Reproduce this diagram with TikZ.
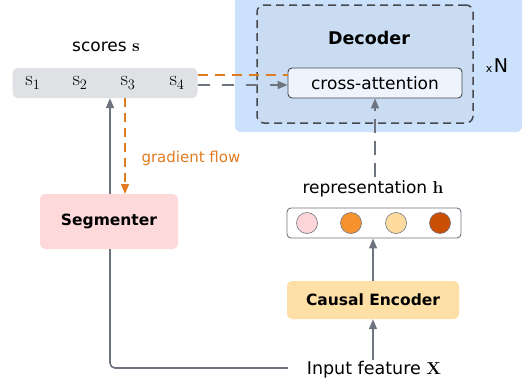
\documentclass[tikz,border=0pt]{standalone}
\usepackage[no-math]{fontspec}
\usepackage{amsmath}
\setmainfont{DejaVu Sans}
\usetikzlibrary{arrows.meta}
\definecolor{bgblue}{HTML}{CCE1FB}
\definecolor{decfill}{HTML}{C9DCF2}
\definecolor{cafill}{HTML}{EEF4FD}
\definecolor{scgray}{HTML}{DFE1E5}
\definecolor{segpink}{HTML}{FDD9DA}
\definecolor{encyel}{HTML}{FEDFA6}
\definecolor{arrgray}{HTML}{6E747F}
\definecolor{dashgray}{HTML}{45484E}
\definecolor{orangeflow}{HTML}{E07B20}
\definecolor{cA}{HTML}{FDD5D8}
\definecolor{cB}{HTML}{F7932F}
\definecolor{cC}{HTML}{FEDCA0}
\definecolor{cD}{HTML}{C94F04}
\tikzset{
  garrow/.style={draw=arrgray, line width=1.6pt, -{Triangle[length=10pt,width=8pt]}},
  oarrow/.style={draw=orangeflow, line width=1.6pt, dash pattern=on 9pt off 6pt, -{Triangle[length=10pt,width=8pt]}},
  blockbox/.style={rounded corners=5pt, inner sep=0pt, font=\bfseries\fontsize{15.5}{17}\selectfont},
  dot/.style={circle, draw=arrgray, line width=0.6pt, minimum size=21pt, inner sep=0pt},
  lbl/.style={font=\fontsize{17}{19}\selectfont, inner sep=1pt},
  smath/.style={font=\fontsize{21}{23}\selectfont, inner sep=0pt}
}
\begin{document}
\begin{tikzpicture}[x=1pt,y=-1pt]
\useasboundingbox (0,0) rectangle (524,389);
% decoder background
\fill[bgblue, rounded corners=6pt] (235,-10) rectangle (522,132);
\node[draw=dashgray, dash pattern=on 8pt off 5pt, line width=1.5pt, fill=decfill, rounded corners=7pt,
      minimum width=216pt, minimum height=118pt, inner sep=0pt] (dec) at (365,64) {};
\node[font=\bfseries\fontsize{17.5}{20}\selectfont] (dectxt) at (369,38) {Decoder};
\node[draw=dashgray, line width=0.9pt, fill=cafill, rounded corners=4pt, minimum width=174pt,
      minimum height=30pt, inner sep=0pt, lbl] (ca) at (375,83) {cross-attention};
\node[inner sep=0pt] (xn) at (497,66) {{\fontsize{11}{12}\selectfont x}\,{\fontsize{19}{21}\selectfont N}};
% scores
\node[fill=scgray, rounded corners=5pt, minimum width=185pt, minimum height=30pt, inner sep=0pt] (sc) at (105,83) {};
\node[smath] (s1) at (33,83) {$\mathrm{s}_1$};
\node[smath] (s2) at (80,83) {$\mathrm{s}_2$};
\node[smath] (s3) at (128,83) {$\mathrm{s}_3$};
\node[smath] (s4) at (177,83) {$\mathrm{s}_4$};
\node[lbl] (sclbl) at (106,47) {scores {\fontsize{19}{21}\selectfont$\mathbf{s}$}};
% segmenter
\node[blockbox, fill=segpink, minimum width=138pt, minimum height=55pt] (seg) at (109,221.5) {Segmenter};
% encoder
\node[blockbox, fill=encyel, minimum width=172pt, minimum height=38pt] (enc) at (373,300) {Causal Encoder};
% representation
\node[draw=arrgray, line width=0.9pt, fill=white, rounded corners=4pt, minimum width=174pt,
      minimum height=30pt, inner sep=0pt] (rep) at (374,223) {};
\node[dot, fill=cA] (h1) at (307,223) {};
\node[dot, fill=cB] (h2) at (351,223) {};
\node[dot, fill=cC] (h3) at (396,223) {};
\node[dot, fill=cD] (h4) at (440,223) {};
\node[lbl] (replbl) at (373,189) {representation {\fontsize{19}{21}\selectfont$\mathbf{h}$}};
% input
\node[lbl, font=\fontsize{17.5}{19}\selectfont] (inp) at (374,370) {Input feature {\fontsize{19}{21}\selectfont$\mathbf{X}$}};
\coordinate (corner) at (110,368);
% connectors
\draw[draw=orangeflow, line width=1.6pt, dash pattern=on 10pt off 7pt] (sc.east |- 0,75) -- (ca.west |- 0,75);
\draw[garrow, dash pattern=on 12pt off 12pt] (sc.east |- 0,85) -- (ca.west |- 0,85);
\draw[garrow, dash pattern=on 14pt off 8pt] (replbl.north -| ca.south) ++(0,-3) -- (ca.south);
\draw[oarrow] (125,98) -- (125,194);
\node[font=\fontsize{15}{17}\selectfont, text=orangeflow, anchor=west] (gf) at (138,158) {gradient flow};
\draw[garrow] (seg.north -| 110,0) -- (sc.south -| 110,0);
\draw[draw=arrgray, line width=1.6pt, rounded corners=5pt] (seg.south -| 110,0) -- (corner) -- (288,368);
\draw[garrow] (inp.north -| enc.south) -- (enc.south);
\draw[garrow] (enc.north) -- (rep.south -| enc.north);
\end{tikzpicture}
\end{document}
